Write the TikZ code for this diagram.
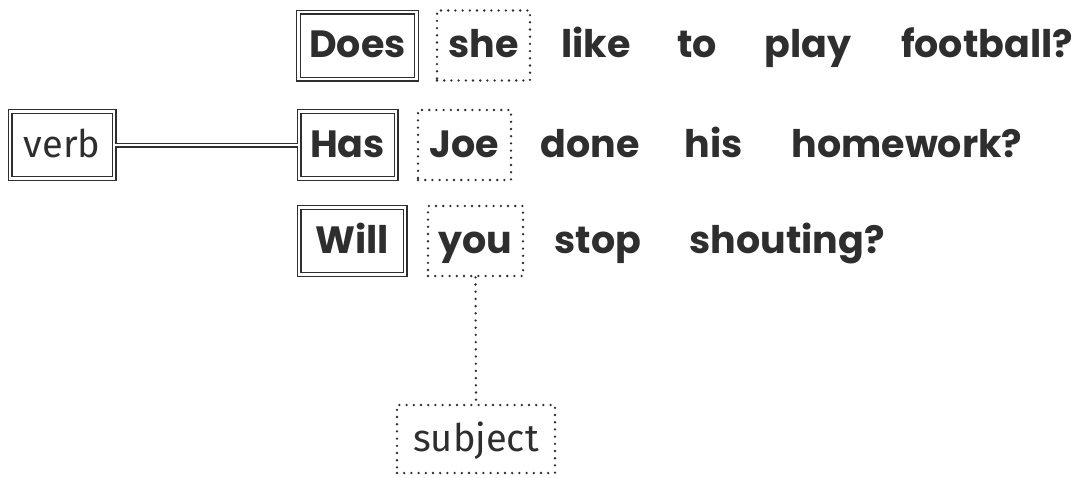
\documentclass[tikz,border=0pt]{standalone}
\usepackage{fontspec}
\setmainfont{Fira Sans}
\newfontfamily\popfont{Poppins}
\begin{document}
\begin{tikzpicture}[x=1pt,y=-1pt,
  txt/.style={text=ink, font=\popfont\fontsize{38}{44}\selectfont\bfseries, inner sep=0pt, anchor=base},
  lbl/.style={text=ink, font=\fontsize{38}{42}\selectfont, inner sep=0pt, anchor=base},
  boxd/.style={draw=ink, line width=1.3pt, double=white, double distance=2.4pt, text height=29pt, text depth=5pt, minimum height=67pt, inner sep=0pt},
  boxs/.style={draw=ink, line width=2.6pt, dash pattern=on 0pt off 7.2pt, line cap=round, text height=29pt, text depth=5pt, minimum height=70pt, inner sep=0pt},
  dline/.style={draw=ink, line width=1.3pt, double=white, double distance=2.4pt},
  sline/.style={draw=ink, line width=2.6pt, dash pattern=on 0pt off 7.2pt, line cap=round},
]
\definecolor{ink}{HTML}{2E2E2E}
\useasboundingbox (0,0) rectangle (1085,477);
% row 1
\node[txt,boxd,minimum width=118pt] (does) at (357.5,57.5) {Does};
\node[txt,boxs,minimum width=93pt] (she) at (483.5,57.5) {she};
\node[txt] (like) at (596,57.5) {like};
\node[txt] (to) at (697,57.5) {to};
\node[txt] (play) at (808,57.5) {play};
\node[txt] (football) at (987,57.5) {football?};
% row 2
\node[txt,boxd,minimum width=97pt] (has) at (347.5,157) {Has};
\node[txt,boxs,minimum width=93pt] (joe) at (464.5,157) {Joe};
\node[txt] (done) at (590,157) {done};
\node[txt] (his) at (714,157) {his};
\node[txt] (homework) at (907,157) {homework?};
% row 3
\node[txt,boxd,minimum width=106pt] (will) at (352,253) {Will};
\node[txt,boxs,minimum width=95pt] (you) at (475.5,253) {you};
\node[txt] (stop) at (598,253) {stop};
\node[txt] (shouting) at (787,253) {shouting?};
% labels
\node[lbl,boxd,minimum width=104pt] (verb) at (62,157) {verb};
\node[lbl,boxs,minimum width=158pt,minimum height=68pt] (subject) at (476,451) {subject};
% connectors
\draw[dline] (verb.east) -- (has.west);
\draw[sline] (you.south) -- (subject.north);
\end{tikzpicture}
\end{document}
